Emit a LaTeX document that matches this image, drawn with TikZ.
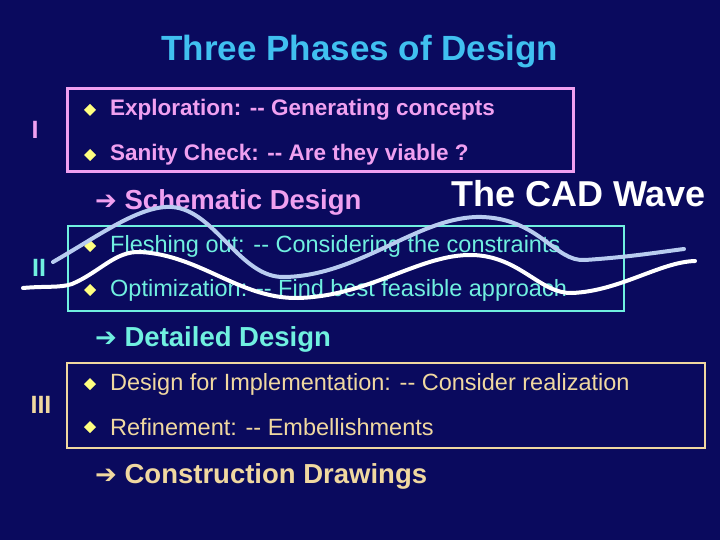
\documentclass[tikz,border=0pt]{standalone}
\usepackage{fontspec}
\setmainfont{Liberation Sans}
\newfontfamily\djv{DejaVu Sans}
\definecolor{bg}{HTML}{0A0A5E}
\definecolor{pinkc}{HTML}{F0A0F0}
\definecolor{cyanc}{HTML}{70F0E0}
\definecolor{beigec}{HTML}{F0D8A0}
\definecolor{titlec}{HTML}{40C0F0}
\definecolor{dia}{HTML}{FFFF80}
\definecolor{wave}{HTML}{B8CCF0}
\begin{document}
\begin{tikzpicture}[x=1pt,y=-1pt,
  item/.style={anchor=west,inner sep=0pt},
  hdr/.style={anchor=west,font=\bfseries\fontsize{27.5}{30}\selectfont,inner sep=0pt},
  roman/.style={font=\bfseries\fontsize{25}{28}\selectfont,inner sep=0pt}]
\fill[bg] (0,0) rectangle (720,540);
\useasboundingbox (0,0) rectangle (720,540);
\node[font=\bfseries\fontsize{35}{38}\selectfont,text=titlec] (title) at (360,52) {Three Phases of Design};
% boxes
\draw[pinkc,line width=3pt] (67,89) rectangle (573,172);
\draw[cyanc,line width=1.5pt] (68,226) rectangle (624,311);
\draw[beigec,line width=1.5pt] (67,363) rectangle (705,448);
% romans
\node[roman,text=pinkc] (r1) at (35,130) {I};
\node[roman,text=cyanc] (r2) at (39,268) {II};
\node[roman,text=beigec] (r3) at (41,405) {III};
% items
\foreach \y/\c/\t/\f [count=\i] in {
 110/pinkc/{Exploration: -{}- Generating concepts}/\bfseries\fontsize{22.5}{25},
 155/pinkc/{Sanity Check: -{}- Are they viable ?}/\bfseries\fontsize{22.5}{25},
 246/cyanc/{Fleshing out: -{}- Considering the constraints}/\fontsize{23.5}{26},
 290/cyanc/{Optimization: -{}- Find best feasible approach}/\fontsize{23.5}{26},
 384/beigec/{Design for Implementation: -{}- Consider realization}/\fontsize{23.5}{26},
 427/beigec/{Refinement: -{}- Embellishments}/\fontsize{23.5}{26}}{
  \fill[dia] (90,\y-6) -- (96,\y) -- (90,\y+6) -- (84,\y) -- cycle;
  \node[item,text=\c,font=\f\selectfont] (it\i) at (110,\y) {\t};
}
% headers
\node[hdr,text=pinkc] (h1) at (95,202) {{\djv\bfseries\fontsize{26}{28}\selectfont ➔}\ Schematic Design};
\node[hdr,text=cyanc] (h2) at (95,339) {{\djv\bfseries\fontsize{26}{28}\selectfont ➔}\ Detailed Design};
\node[hdr,text=beigec] (h3) at (95,476) {{\djv\bfseries\fontsize{26}{28}\selectfont ➔}\ Construction Drawings};
\node[anchor=east,inner sep=0pt,text=white,font=\bfseries\fontsize{36}{38}\selectfont] (cad) at (706,194) {The CAD Wave};
% waves
\draw[wave,line width=4pt,line cap=round] (53,262)
  .. controls (100,235) and (140,205) .. (172,207)
  .. controls (215,210) and (240,278) .. (284,277)
  .. controls (360,276) and (420,215) .. (482,217)
  .. controls (540,219) and (555,262) .. (585,260)
  .. controls (630,257) and (660,252) .. (684,249);
\draw[white,line width=4pt,line cap=round] (23,288)
  .. controls (45,286) and (60,288) .. (72,284)
  .. controls (100,272) and (115,251) .. (140,252)
  .. controls (200,255) and (240,299) .. (298,298)
  .. controls (370,296) and (420,254) .. (472,255)
  .. controls (520,256) and (540,294) .. (572,293)
  .. controls (620,291) and (660,262) .. (695,261);
\end{tikzpicture}
\end{document}
